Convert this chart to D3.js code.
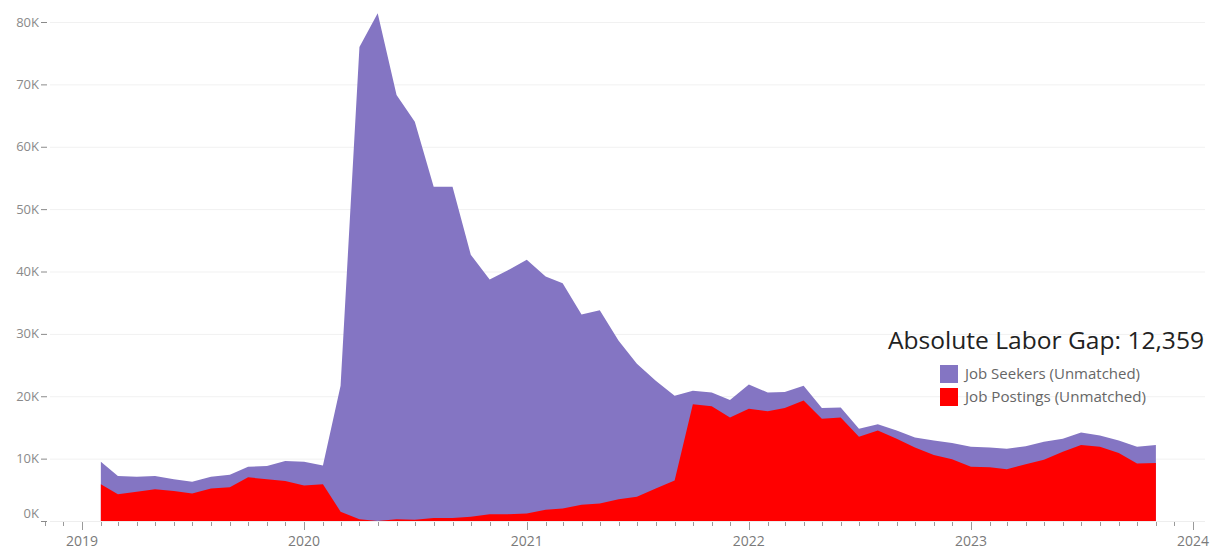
<!DOCTYPE html>
<html><head><meta charset="utf-8">
<script src="https://cdn.jsdelivr.net/npm/d3@7"></script>
<style>body{margin:0;background:#fff}svg{display:block}</style>
</head><body><svg id="c" width="1212" height="552"></svg>
<script>
const months = ["2019-02","2019-03","2019-04","2019-05","2019-06","2019-07","2019-08","2019-09","2019-10","2019-11","2019-12",
"2020-01","2020-02","2020-03","2020-04","2020-05","2020-06","2020-07","2020-08","2020-09","2020-10","2020-11","2020-12",
"2021-01","2021-02","2021-03","2021-04","2021-05","2021-06","2021-07","2021-08","2021-09","2021-10","2021-11","2021-12",
"2022-01","2022-02","2022-03","2022-04","2022-05","2022-06","2022-07","2022-08","2022-09","2022-10","2022-11","2022-12",
"2023-01","2023-02","2023-03","2023-04","2023-05","2023-06","2023-07","2023-08","2023-09","2023-10","2023-11"];
const seekers = [9.5,7.2,7.1,7.2,6.7,6.3,7.1,7.4,8.7,8.8,9.6,
9.5,8.9,21.7,76.0,81.4,68.3,64.0,53.6,53.6,42.7,38.7,40.2,
41.9,39.2,38.1,33.1,33.8,28.9,25.2,22.5,20.1,20.9,20.6,19.4,
21.9,20.6,20.7,21.7,18.1,18.2,14.8,15.5,14.5,13.4,12.9,12.5,
11.9,11.8,11.6,12.0,12.7,13.2,14.2,13.7,12.9,11.9,12.2];
const postings = [5.9,4.3,4.7,5.1,4.8,4.4,5.2,5.4,7.0,6.7,6.4,
5.7,5.9,1.5,0.3,0.0,0.3,0.2,0.5,0.5,0.7,1.1,1.1,
1.2,1.8,2.0,2.6,2.8,3.5,3.9,5.2,6.5,18.7,18.4,16.6,
18.0,17.6,18.1,19.3,16.4,16.6,13.5,14.5,13.2,11.8,10.6,9.9,
8.7,8.6,8.3,9.1,9.8,11.1,12.2,11.9,10.9,9.2,9.3];
const yTickValues = [0,10,20,30,40,50,60,70,80];
const yTickLabels = ["0K","10K","20K","30K","40K","50K","60K","70K","80K"];
const yearLabels = ["2019","2020","2021","2022","2023","2024"];
const seriesNames = ["Job Seekers (Unmatched)","Job Postings (Unmatched)"];
const seriesColors = ["#8475C3","#FF0000"];
const titleText = "Absolute Labor Gap: 12,359";

const parse = d3.utcParse("%Y-%m");
const data = months.map((m,i)=>({date:parse(m), s:seekers[i]*1000, p:postings[i]*1000}));

const svg = d3.select("#c");
const font = "'Open Sans', 'Noto Sans', sans-serif";
const x = d3.scaleUtc().domain([parse("2019-01"), parse("2024-01")]).range([82,1193]);
const y = d3.scaleLinear().domain([0,80000]).range([521,22]);

// gridlines
svg.append("g").selectAll("line").data(yTickValues.slice(1)).join("line")
  .attr("x1",50).attr("x2",1205)
  .attr("y1",d=>y(d*1000)+0.5).attr("y2",d=>y(d*1000)+0.5)
  .attr("stroke","#f1f1f1").attr("stroke-width",1);

// areas
const areaS = d3.area().x(d=>x(d.date)).y0(y(0)).y1(d=>y(d.s));
const areaP = d3.area().x(d=>x(d.date)).y0(y(0)).y1(d=>y(d.p));
svg.append("path").datum(data).attr("d",areaS).attr("fill",seriesColors[0]);
svg.append("path").datum(data).attr("d",areaP).attr("fill",seriesColors[1]);

// y axis labels + ticks
const yg = svg.append("g");
yg.selectAll("text").data(yTickValues).join("text")
  .attr("x",39).attr("y",(d,i)=> d===0 ? y(0)-8 : y(d*1000))
  .attr("dy","0.35em").attr("text-anchor","end")
  .attr("font-family",font).attr("font-size",13).attr("fill","#8a8a8a")
  .text((d,i)=>yTickLabels[i]);
yg.selectAll("line").data(yTickValues).join("line")
  .attr("x1",41).attr("x2",47)
  .attr("y1",d=>y(d*1000)+0.5).attr("y2",d=>y(d*1000)+0.5)
  .attr("stroke","#8a8a8a").attr("stroke-width",1);

// x axis
const xg = svg.append("g");
xg.append("line").attr("x1",50).attr("x2",1205).attr("y1",521.5).attr("y2",521.5)
  .attr("stroke","#eeeeee");
const monthTicks = d3.utcMonth.range(parse("2018-11"), parse("2024-02"));
xg.selectAll("line.t").data(monthTicks).join("line").attr("class","t")
  .attr("x1",d=>Math.round(x(d))+0.5).attr("x2",d=>Math.round(x(d))+0.5)
  .attr("y1",522).attr("y2",d=>d.getUTCMonth()===0?530:526)
  .attr("stroke","#9a9a9a").attr("stroke-width",1);
xg.selectAll("text").data(yearLabels).join("text")
  .attr("x",d=>x(parse(d+"-01"))).attr("y",546)
  .attr("text-anchor","middle")
  .attr("font-family",font).attr("font-size",14).attr("fill","#7a7a7a")
  .text(d=>d);

// title / legend
svg.append("text").attr("x",888).attr("y",349)
  .attr("font-family",font).attr("font-size",24).attr("fill","#222")
  .attr("textLength",316).attr("lengthAdjust","spacingAndGlyphs")
  .text(titleText);
const lg = svg.append("g");
seriesNames.forEach((n,i)=>{
  lg.append("rect").attr("x",940).attr("y",365+i*23).attr("width",18).attr("height",18)
    .attr("fill",seriesColors[i]);
  lg.append("text").attr("x",965).attr("y",374+i*23).attr("dy","0.35em")
    .attr("font-family",font).attr("font-size",14).attr("fill","#666")
    .attr("textLength", i===0?175:181).attr("lengthAdjust","spacingAndGlyphs")
    .text(n);
});
</script></body></html>
